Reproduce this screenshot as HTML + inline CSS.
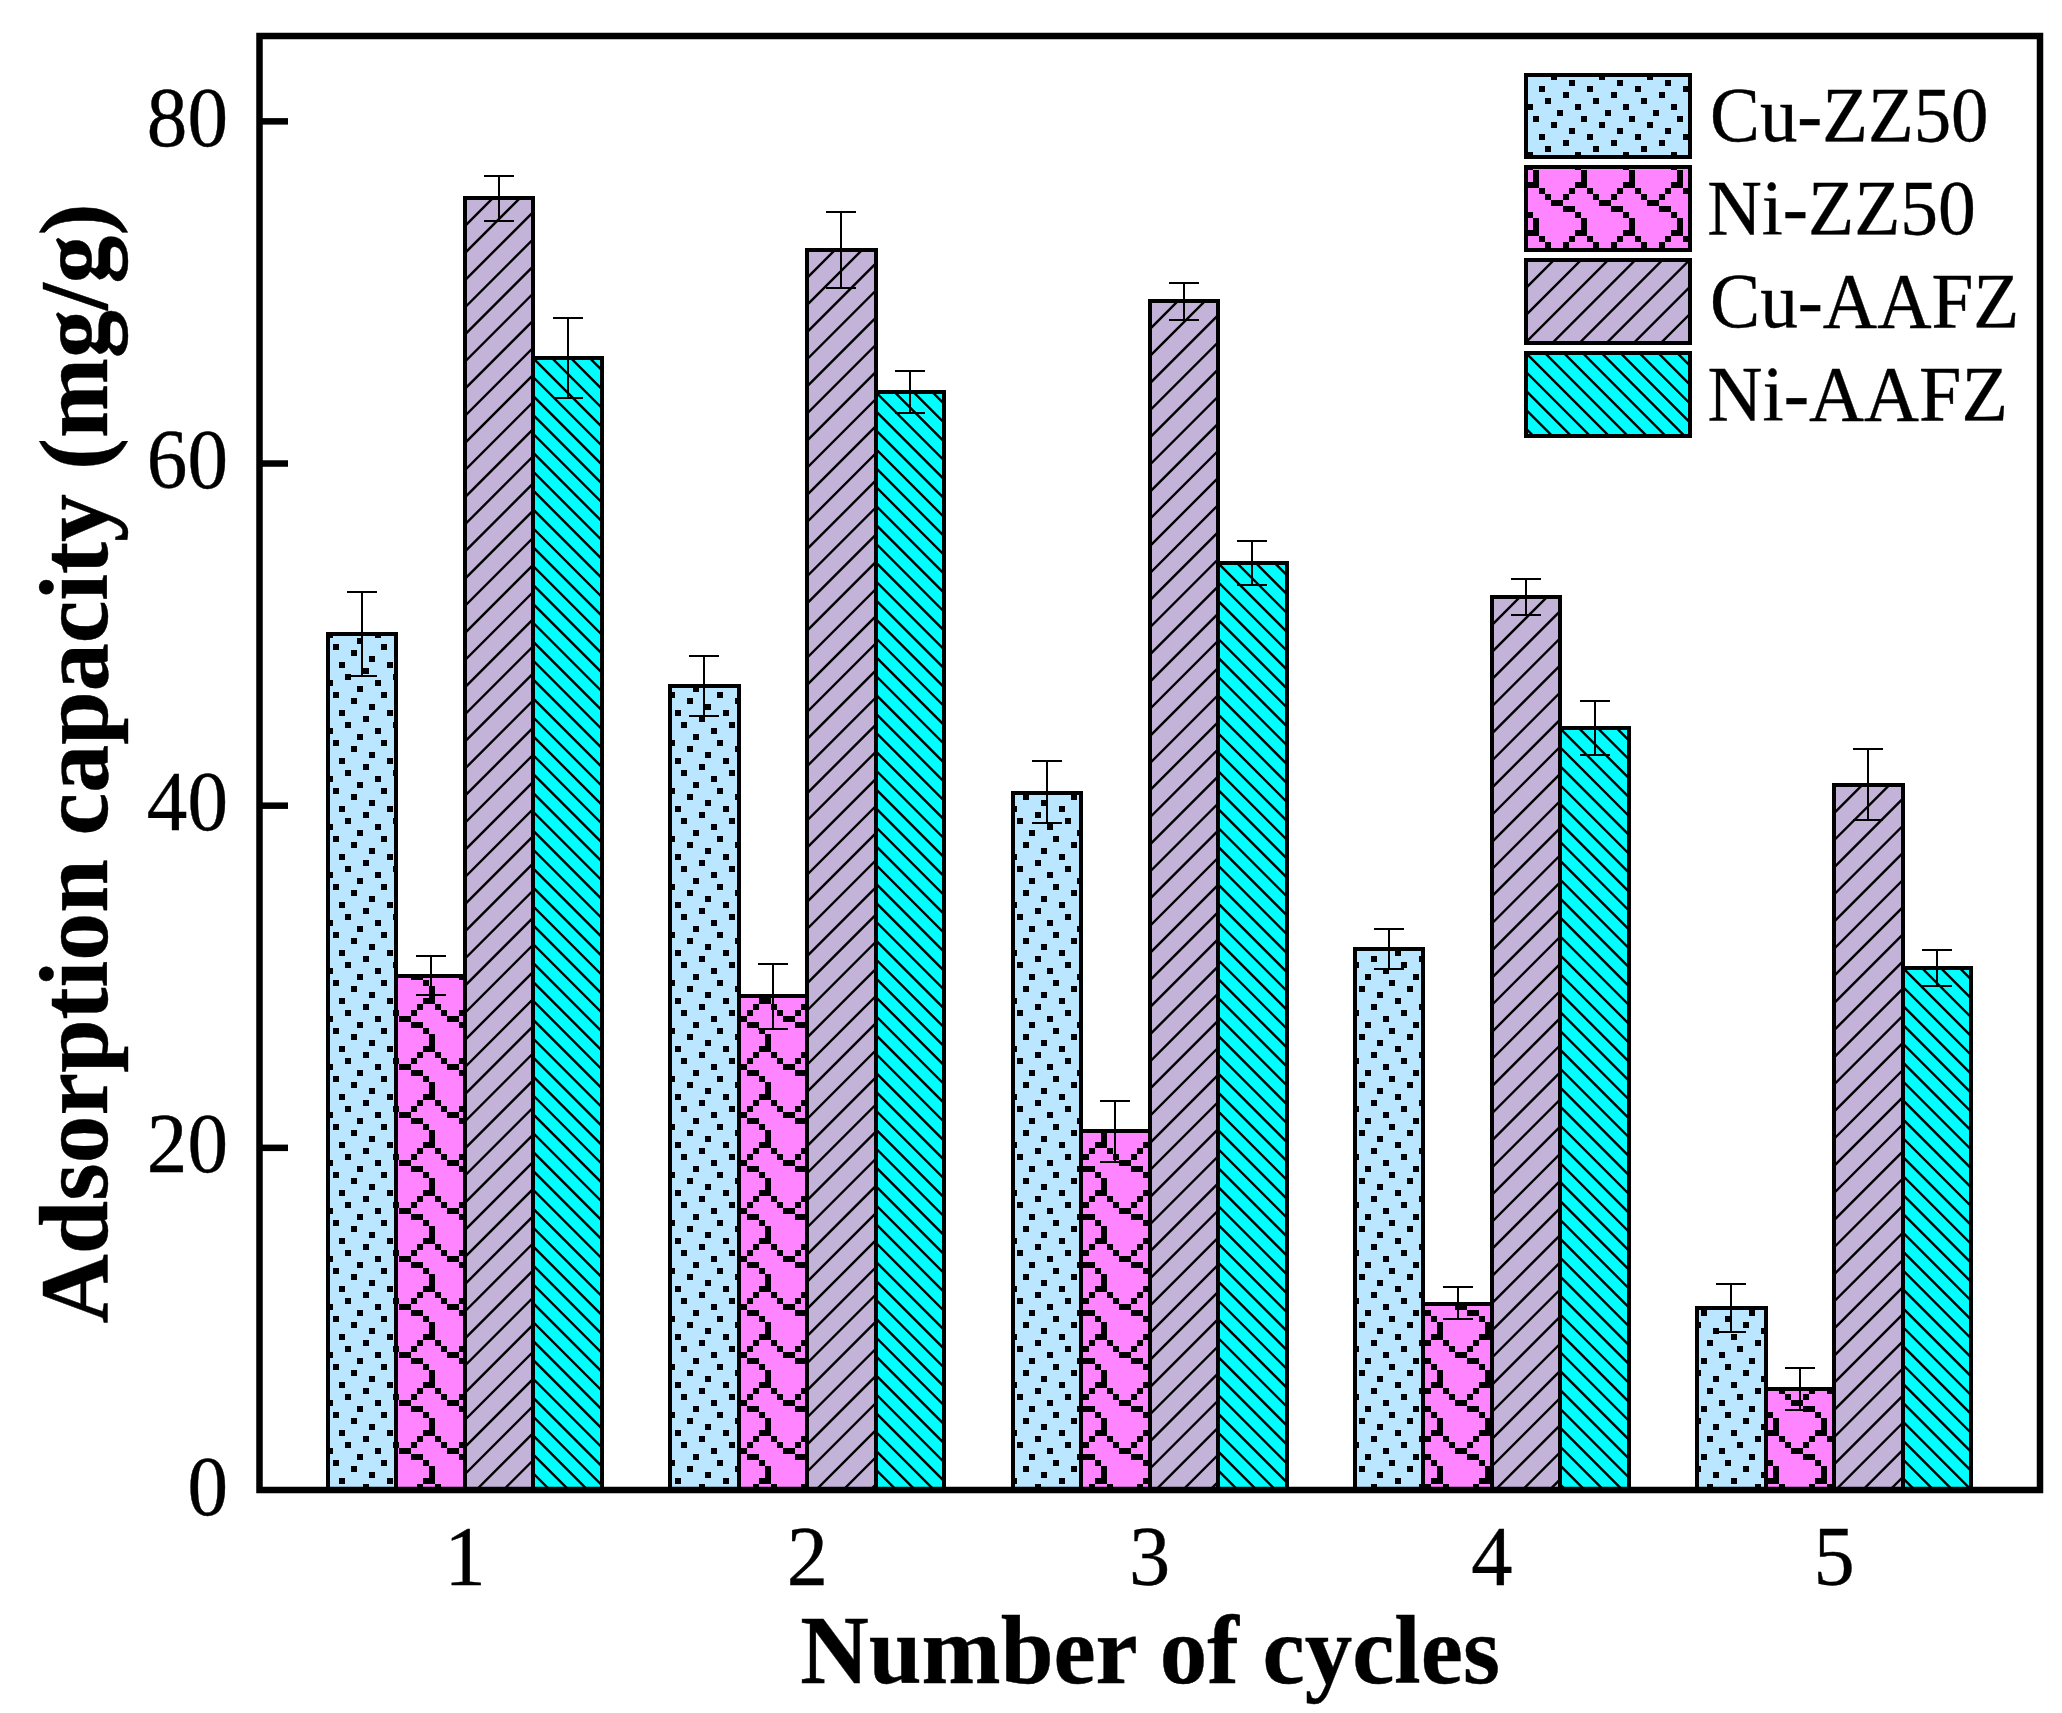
<!DOCTYPE html>
<html lang="en"><head><meta charset="utf-8"><title>Adsorption capacity vs number of cycles</title>
<style>html,body{margin:0;padding:0;background:#fff}body{width:2062px;height:1713px;overflow:hidden}svg{display:block}text{font-family:"Liberation Serif",serif;fill:#000;stroke:#000;stroke-width:0.4px}.b{font-weight:bold}</style></head><body>
<svg width="2062" height="1713" viewBox="0 0 2062 1713">
<defs>
<pattern id="pd" patternUnits="userSpaceOnUse" x="399" y="1382" width="48" height="48">
<rect width="48" height="48" fill="#BBE6FF"/>
<rect x="36" y="0" width="6" height="6" fill="#000"/>
<rect x="12" y="6" width="6" height="6" fill="#000"/>
<rect x="42" y="12" width="6" height="6" fill="#000"/>
<rect x="24" y="18" width="6" height="6" fill="#000"/>
<rect x="6" y="24" width="6" height="6" fill="#000"/>
<rect x="30" y="30" width="6" height="6" fill="#000"/>
<rect x="0" y="36" width="6" height="6" fill="#000"/>
<rect x="18" y="42" width="6" height="6" fill="#000"/>
</pattern>
<pattern id="ps" patternUnits="userSpaceOnUse" x="399" y="1382" width="48" height="48">
<rect width="48" height="48" fill="#FF84FF"/>
<rect x="24" y="0" width="6" height="6" fill="#000"/>
<rect x="30" y="0" width="6" height="6" fill="#000"/>
<rect x="18" y="6" width="6" height="6" fill="#000"/>
<rect x="36" y="6" width="6" height="6" fill="#000"/>
<rect x="12" y="12" width="6" height="6" fill="#000"/>
<rect x="42" y="12" width="6" height="6" fill="#000"/>
<rect x="0" y="18" width="6" height="6" fill="#000"/>
<rect x="6" y="18" width="6" height="6" fill="#000"/>
<rect x="12" y="24" width="6" height="6" fill="#000"/>
<rect x="18" y="24" width="6" height="6" fill="#000"/>
<rect x="24" y="30" width="6" height="6" fill="#000"/>
<rect x="30" y="36" width="6" height="6" fill="#000"/>
<rect x="30" y="42" width="6" height="6" fill="#000"/>
</pattern>
</defs>
<rect width="2062" height="1713" fill="#fff"/>
<g id="bars">
<rect x="328.00" y="634.00" width="68.00" height="856.00" fill="url(#pd)" shape-rendering="crispEdges"/><rect x="328.00" y="634.00" width="68.00" height="856.00" fill="none" stroke="#000" stroke-width="4.00" shape-rendering="crispEdges"/>
<rect x="396.00" y="976.00" width="69.00" height="514.00" fill="url(#ps)" shape-rendering="crispEdges"/><rect x="396.00" y="976.00" width="69.00" height="514.00" fill="none" stroke="#000" stroke-width="4.00" shape-rendering="crispEdges"/>
<rect x="465.00" y="198.00" width="68.00" height="1292.00" fill="#C4B3D9"/><clipPath id="c1"><rect x="465.00" y="198.00" width="68.00" height="1292.00"/></clipPath><g clip-path="url(#c1)" stroke="#000" stroke-width="2.40" fill="none"><path d="M462.00 201.80L536.00 127.80M462.00 228.93L536.00 154.93M462.00 256.07L536.00 182.07M462.00 283.20L536.00 209.20M462.00 310.34L536.00 236.34M462.00 337.47L536.00 263.47M462.00 364.61L536.00 290.61M462.00 391.75L536.00 317.75M462.00 418.88L536.00 344.88M462.00 446.01L536.00 372.01M462.00 473.15L536.00 399.15M462.00 500.28L536.00 426.28M462.00 527.42L536.00 453.42M462.00 554.55L536.00 480.55M462.00 581.69L536.00 507.69M462.00 608.83L536.00 534.83M462.00 635.96L536.00 561.96M462.00 663.10L536.00 589.10M462.00 690.23L536.00 616.23M462.00 717.37L536.00 643.37M462.00 744.50L536.00 670.50M462.00 771.63L536.00 697.63M462.00 798.77L536.00 724.77M462.00 825.90L536.00 751.90M462.00 853.04L536.00 779.04M462.00 880.17L536.00 806.17M462.00 907.31L536.00 833.31M462.00 934.45L536.00 860.45M462.00 961.58L536.00 887.58M462.00 988.72L536.00 914.72M462.00 1015.85L536.00 941.85M462.00 1042.99L536.00 968.99M462.00 1070.12L536.00 996.12M462.00 1097.26L536.00 1023.26M462.00 1124.39L536.00 1050.39M462.00 1151.53L536.00 1077.53M462.00 1178.66L536.00 1104.66M462.00 1205.80L536.00 1131.80M462.00 1232.93L536.00 1158.93M462.00 1260.07L536.00 1186.07M462.00 1287.20L536.00 1213.20M462.00 1314.34L536.00 1240.34M462.00 1341.47L536.00 1267.47M462.00 1368.61L536.00 1294.61M462.00 1395.74L536.00 1321.74M462.00 1422.88L536.00 1348.88M462.00 1450.01L536.00 1376.01M462.00 1477.14L536.00 1403.14M462.00 1504.28L536.00 1430.28M462.00 1531.41L536.00 1457.41M462.00 1558.55L536.00 1484.55"/></g><rect x="465.00" y="198.00" width="68.00" height="1292.00" fill="none" stroke="#000" stroke-width="4.00" shape-rendering="crispEdges"/>
<rect x="533.00" y="358.00" width="69.00" height="1132.00" fill="#00FFFF"/><clipPath id="c2"><rect x="533.00" y="358.00" width="69.00" height="1132.00"/></clipPath><g clip-path="url(#c2)" stroke="#000" stroke-width="2.40" fill="none"><path d="M530.00 279.40L605.00 354.40M530.00 298.30L605.00 373.30M530.00 317.20L605.00 392.20M530.00 336.10L605.00 411.10M530.00 355.00L605.00 430.00M530.00 373.90L605.00 448.90M530.00 392.80L605.00 467.80M530.00 411.70L605.00 486.70M530.00 430.60L605.00 505.60M530.00 449.50L605.00 524.50M530.00 468.40L605.00 543.40M530.00 487.30L605.00 562.30M530.00 506.20L605.00 581.20M530.00 525.10L605.00 600.10M530.00 544.00L605.00 619.00M530.00 562.90L605.00 637.90M530.00 581.80L605.00 656.80M530.00 600.70L605.00 675.70M530.00 619.60L605.00 694.60M530.00 638.50L605.00 713.50M530.00 657.40L605.00 732.40M530.00 676.30L605.00 751.30M530.00 695.20L605.00 770.20M530.00 714.10L605.00 789.10M530.00 733.00L605.00 808.00M530.00 751.90L605.00 826.90M530.00 770.80L605.00 845.80M530.00 789.70L605.00 864.70M530.00 808.60L605.00 883.60M530.00 827.50L605.00 902.50M530.00 846.40L605.00 921.40M530.00 865.30L605.00 940.30M530.00 884.20L605.00 959.20M530.00 903.10L605.00 978.10M530.00 922.00L605.00 997.00M530.00 940.90L605.00 1015.90M530.00 959.80L605.00 1034.80M530.00 978.70L605.00 1053.70M530.00 997.60L605.00 1072.60M530.00 1016.50L605.00 1091.50M530.00 1035.40L605.00 1110.40M530.00 1054.30L605.00 1129.30M530.00 1073.20L605.00 1148.20M530.00 1092.10L605.00 1167.10M530.00 1111.00L605.00 1186.00M530.00 1129.90L605.00 1204.90M530.00 1148.80L605.00 1223.80M530.00 1167.70L605.00 1242.70M530.00 1186.60L605.00 1261.60M530.00 1205.50L605.00 1280.50M530.00 1224.40L605.00 1299.40M530.00 1243.30L605.00 1318.30M530.00 1262.20L605.00 1337.20M530.00 1281.10L605.00 1356.10M530.00 1300.00L605.00 1375.00M530.00 1318.90L605.00 1393.90M530.00 1337.80L605.00 1412.80M530.00 1356.70L605.00 1431.70M530.00 1375.60L605.00 1450.60M530.00 1394.50L605.00 1469.50M530.00 1413.40L605.00 1488.40M530.00 1432.30L605.00 1507.30M530.00 1451.20L605.00 1526.20M530.00 1470.10L605.00 1545.10M530.00 1489.00L605.00 1564.00"/></g><rect x="533.00" y="358.00" width="69.00" height="1132.00" fill="none" stroke="#000" stroke-width="4.00" shape-rendering="crispEdges"/>
<rect x="670.00" y="686.00" width="69.00" height="804.00" fill="url(#pd)" shape-rendering="crispEdges"/><rect x="670.00" y="686.00" width="69.00" height="804.00" fill="none" stroke="#000" stroke-width="4.00" shape-rendering="crispEdges"/>
<rect x="739.00" y="996.20" width="68.00" height="493.80" fill="url(#ps)" shape-rendering="crispEdges"/><rect x="739.00" y="996.20" width="68.00" height="493.80" fill="none" stroke="#000" stroke-width="4.00" shape-rendering="crispEdges"/>
<rect x="807.00" y="250.00" width="69.00" height="1240.00" fill="#C4B3D9"/><clipPath id="c3"><rect x="807.00" y="250.00" width="69.00" height="1240.00"/></clipPath><g clip-path="url(#c3)" stroke="#000" stroke-width="2.40" fill="none"><path d="M804.00 253.80L879.00 178.80M804.00 280.93L879.00 205.93M804.00 308.07L879.00 233.07M804.00 335.20L879.00 260.20M804.00 362.34L879.00 287.34M804.00 389.47L879.00 314.47M804.00 416.61L879.00 341.61M804.00 443.74L879.00 368.74M804.00 470.88L879.00 395.88M804.00 498.01L879.00 423.01M804.00 525.15L879.00 450.15M804.00 552.28L879.00 477.28M804.00 579.42L879.00 504.42M804.00 606.55L879.00 531.55M804.00 633.69L879.00 558.69M804.00 660.83L879.00 585.83M804.00 687.96L879.00 612.96M804.00 715.10L879.00 640.10M804.00 742.23L879.00 667.23M804.00 769.37L879.00 694.37M804.00 796.50L879.00 721.50M804.00 823.63L879.00 748.63M804.00 850.77L879.00 775.77M804.00 877.90L879.00 802.90M804.00 905.04L879.00 830.04M804.00 932.17L879.00 857.17M804.00 959.31L879.00 884.31M804.00 986.45L879.00 911.45M804.00 1013.58L879.00 938.58M804.00 1040.72L879.00 965.72M804.00 1067.85L879.00 992.85M804.00 1094.99L879.00 1019.99M804.00 1122.12L879.00 1047.12M804.00 1149.26L879.00 1074.26M804.00 1176.39L879.00 1101.39M804.00 1203.53L879.00 1128.53M804.00 1230.66L879.00 1155.66M804.00 1257.80L879.00 1182.80M804.00 1284.93L879.00 1209.93M804.00 1312.07L879.00 1237.07M804.00 1339.20L879.00 1264.20M804.00 1366.34L879.00 1291.34M804.00 1393.47L879.00 1318.47M804.00 1420.61L879.00 1345.61M804.00 1447.74L879.00 1372.74M804.00 1474.88L879.00 1399.88M804.00 1502.01L879.00 1427.01M804.00 1529.14L879.00 1454.14M804.00 1556.28L879.00 1481.28"/></g><rect x="807.00" y="250.00" width="69.00" height="1240.00" fill="none" stroke="#000" stroke-width="4.00" shape-rendering="crispEdges"/>
<rect x="876.00" y="392.40" width="68.00" height="1097.60" fill="#00FFFF"/><clipPath id="c4"><rect x="876.00" y="392.40" width="68.00" height="1097.60"/></clipPath><g clip-path="url(#c4)" stroke="#000" stroke-width="2.40" fill="none"><path d="M873.00 313.80L947.00 387.80M873.00 332.70L947.00 406.70M873.00 351.60L947.00 425.60M873.00 370.50L947.00 444.50M873.00 389.40L947.00 463.40M873.00 408.30L947.00 482.30M873.00 427.20L947.00 501.20M873.00 446.10L947.00 520.10M873.00 465.00L947.00 539.00M873.00 483.90L947.00 557.90M873.00 502.80L947.00 576.80M873.00 521.70L947.00 595.70M873.00 540.60L947.00 614.60M873.00 559.50L947.00 633.50M873.00 578.40L947.00 652.40M873.00 597.30L947.00 671.30M873.00 616.20L947.00 690.20M873.00 635.10L947.00 709.10M873.00 654.00L947.00 728.00M873.00 672.90L947.00 746.90M873.00 691.80L947.00 765.80M873.00 710.70L947.00 784.70M873.00 729.60L947.00 803.60M873.00 748.50L947.00 822.50M873.00 767.40L947.00 841.40M873.00 786.30L947.00 860.30M873.00 805.20L947.00 879.20M873.00 824.10L947.00 898.10M873.00 843.00L947.00 917.00M873.00 861.90L947.00 935.90M873.00 880.80L947.00 954.80M873.00 899.70L947.00 973.70M873.00 918.60L947.00 992.60M873.00 937.50L947.00 1011.50M873.00 956.40L947.00 1030.40M873.00 975.30L947.00 1049.30M873.00 994.20L947.00 1068.20M873.00 1013.10L947.00 1087.10M873.00 1032.00L947.00 1106.00M873.00 1050.90L947.00 1124.90M873.00 1069.80L947.00 1143.80M873.00 1088.70L947.00 1162.70M873.00 1107.60L947.00 1181.60M873.00 1126.50L947.00 1200.50M873.00 1145.40L947.00 1219.40M873.00 1164.30L947.00 1238.30M873.00 1183.20L947.00 1257.20M873.00 1202.10L947.00 1276.10M873.00 1221.00L947.00 1295.00M873.00 1239.90L947.00 1313.90M873.00 1258.80L947.00 1332.80M873.00 1277.70L947.00 1351.70M873.00 1296.60L947.00 1370.60M873.00 1315.50L947.00 1389.50M873.00 1334.40L947.00 1408.40M873.00 1353.30L947.00 1427.30M873.00 1372.20L947.00 1446.20M873.00 1391.10L947.00 1465.10M873.00 1410.00L947.00 1484.00M873.00 1428.90L947.00 1502.90M873.00 1447.80L947.00 1521.80M873.00 1466.70L947.00 1540.70M873.00 1485.60L947.00 1559.60"/></g><rect x="876.00" y="392.40" width="68.00" height="1097.60" fill="none" stroke="#000" stroke-width="4.00" shape-rendering="crispEdges"/>
<rect x="1013.00" y="792.60" width="68.00" height="697.40" fill="url(#pd)" shape-rendering="crispEdges"/><rect x="1013.00" y="792.60" width="68.00" height="697.40" fill="none" stroke="#000" stroke-width="4.00" shape-rendering="crispEdges"/>
<rect x="1081.00" y="1131.00" width="69.00" height="359.00" fill="url(#ps)" shape-rendering="crispEdges"/><rect x="1081.00" y="1131.00" width="69.00" height="359.00" fill="none" stroke="#000" stroke-width="4.00" shape-rendering="crispEdges"/>
<rect x="1150.00" y="301.00" width="68.00" height="1189.00" fill="#C4B3D9"/><clipPath id="c5"><rect x="1150.00" y="301.00" width="68.00" height="1189.00"/></clipPath><g clip-path="url(#c5)" stroke="#000" stroke-width="2.40" fill="none"><path d="M1147.00 304.80L1221.00 230.80M1147.00 331.93L1221.00 257.93M1147.00 359.07L1221.00 285.07M1147.00 386.20L1221.00 312.20M1147.00 413.34L1221.00 339.34M1147.00 440.47L1221.00 366.47M1147.00 467.61L1221.00 393.61M1147.00 494.74L1221.00 420.74M1147.00 521.88L1221.00 447.88M1147.00 549.01L1221.00 475.01M1147.00 576.15L1221.00 502.15M1147.00 603.28L1221.00 529.28M1147.00 630.42L1221.00 556.42M1147.00 657.55L1221.00 583.55M1147.00 684.69L1221.00 610.69M1147.00 711.83L1221.00 637.83M1147.00 738.96L1221.00 664.96M1147.00 766.10L1221.00 692.10M1147.00 793.23L1221.00 719.23M1147.00 820.37L1221.00 746.37M1147.00 847.50L1221.00 773.50M1147.00 874.63L1221.00 800.63M1147.00 901.77L1221.00 827.77M1147.00 928.90L1221.00 854.90M1147.00 956.04L1221.00 882.04M1147.00 983.18L1221.00 909.18M1147.00 1010.31L1221.00 936.31M1147.00 1037.45L1221.00 963.45M1147.00 1064.58L1221.00 990.58M1147.00 1091.72L1221.00 1017.72M1147.00 1118.85L1221.00 1044.85M1147.00 1145.99L1221.00 1071.99M1147.00 1173.12L1221.00 1099.12M1147.00 1200.26L1221.00 1126.26M1147.00 1227.39L1221.00 1153.39M1147.00 1254.53L1221.00 1180.53M1147.00 1281.66L1221.00 1207.66M1147.00 1308.80L1221.00 1234.80M1147.00 1335.93L1221.00 1261.93M1147.00 1363.07L1221.00 1289.07M1147.00 1390.20L1221.00 1316.20M1147.00 1417.34L1221.00 1343.34M1147.00 1444.47L1221.00 1370.47M1147.00 1471.61L1221.00 1397.61M1147.00 1498.74L1221.00 1424.74M1147.00 1525.88L1221.00 1451.88M1147.00 1553.01L1221.00 1479.01"/></g><rect x="1150.00" y="301.00" width="68.00" height="1189.00" fill="none" stroke="#000" stroke-width="4.00" shape-rendering="crispEdges"/>
<rect x="1218.00" y="563.00" width="69.00" height="927.00" fill="#00FFFF"/><clipPath id="c6"><rect x="1218.00" y="563.00" width="69.00" height="927.00"/></clipPath><g clip-path="url(#c6)" stroke="#000" stroke-width="2.40" fill="none"><path d="M1215.00 484.40L1290.00 559.40M1215.00 503.30L1290.00 578.30M1215.00 522.20L1290.00 597.20M1215.00 541.10L1290.00 616.10M1215.00 560.00L1290.00 635.00M1215.00 578.90L1290.00 653.90M1215.00 597.80L1290.00 672.80M1215.00 616.70L1290.00 691.70M1215.00 635.60L1290.00 710.60M1215.00 654.50L1290.00 729.50M1215.00 673.40L1290.00 748.40M1215.00 692.30L1290.00 767.30M1215.00 711.20L1290.00 786.20M1215.00 730.10L1290.00 805.10M1215.00 749.00L1290.00 824.00M1215.00 767.90L1290.00 842.90M1215.00 786.80L1290.00 861.80M1215.00 805.70L1290.00 880.70M1215.00 824.60L1290.00 899.60M1215.00 843.50L1290.00 918.50M1215.00 862.40L1290.00 937.40M1215.00 881.30L1290.00 956.30M1215.00 900.20L1290.00 975.20M1215.00 919.10L1290.00 994.10M1215.00 938.00L1290.00 1013.00M1215.00 956.90L1290.00 1031.90M1215.00 975.80L1290.00 1050.80M1215.00 994.70L1290.00 1069.70M1215.00 1013.60L1290.00 1088.60M1215.00 1032.50L1290.00 1107.50M1215.00 1051.40L1290.00 1126.40M1215.00 1070.30L1290.00 1145.30M1215.00 1089.20L1290.00 1164.20M1215.00 1108.10L1290.00 1183.10M1215.00 1127.00L1290.00 1202.00M1215.00 1145.90L1290.00 1220.90M1215.00 1164.80L1290.00 1239.80M1215.00 1183.70L1290.00 1258.70M1215.00 1202.60L1290.00 1277.60M1215.00 1221.50L1290.00 1296.50M1215.00 1240.40L1290.00 1315.40M1215.00 1259.30L1290.00 1334.30M1215.00 1278.20L1290.00 1353.20M1215.00 1297.10L1290.00 1372.10M1215.00 1316.00L1290.00 1391.00M1215.00 1334.90L1290.00 1409.90M1215.00 1353.80L1290.00 1428.80M1215.00 1372.70L1290.00 1447.70M1215.00 1391.60L1290.00 1466.60M1215.00 1410.50L1290.00 1485.50M1215.00 1429.40L1290.00 1504.40M1215.00 1448.30L1290.00 1523.30M1215.00 1467.20L1290.00 1542.20M1215.00 1486.10L1290.00 1561.10"/></g><rect x="1218.00" y="563.00" width="69.00" height="927.00" fill="none" stroke="#000" stroke-width="4.00" shape-rendering="crispEdges"/>
<rect x="1355.00" y="948.50" width="68.00" height="541.50" fill="url(#pd)" shape-rendering="crispEdges"/><rect x="1355.00" y="948.50" width="68.00" height="541.50" fill="none" stroke="#000" stroke-width="4.00" shape-rendering="crispEdges"/>
<rect x="1423.00" y="1303.50" width="69.00" height="186.50" fill="url(#ps)" shape-rendering="crispEdges"/><rect x="1423.00" y="1303.50" width="69.00" height="186.50" fill="none" stroke="#000" stroke-width="4.00" shape-rendering="crispEdges"/>
<rect x="1492.00" y="597.00" width="68.00" height="893.00" fill="#C4B3D9"/><clipPath id="c7"><rect x="1492.00" y="597.00" width="68.00" height="893.00"/></clipPath><g clip-path="url(#c7)" stroke="#000" stroke-width="2.40" fill="none"><path d="M1489.00 600.80L1563.00 526.80M1489.00 627.94L1563.00 553.94M1489.00 655.07L1563.00 581.07M1489.00 682.21L1563.00 608.21M1489.00 709.34L1563.00 635.34M1489.00 736.48L1563.00 662.48M1489.00 763.61L1563.00 689.61M1489.00 790.75L1563.00 716.75M1489.00 817.88L1563.00 743.88M1489.00 845.02L1563.00 771.02M1489.00 872.15L1563.00 798.15M1489.00 899.29L1563.00 825.29M1489.00 926.42L1563.00 852.42M1489.00 953.56L1563.00 879.56M1489.00 980.69L1563.00 906.69M1489.00 1007.83L1563.00 933.83M1489.00 1034.96L1563.00 960.96M1489.00 1062.10L1563.00 988.10M1489.00 1089.23L1563.00 1015.23M1489.00 1116.37L1563.00 1042.37M1489.00 1143.50L1563.00 1069.50M1489.00 1170.64L1563.00 1096.64M1489.00 1197.77L1563.00 1123.77M1489.00 1224.91L1563.00 1150.91M1489.00 1252.04L1563.00 1178.04M1489.00 1279.18L1563.00 1205.18M1489.00 1306.31L1563.00 1232.31M1489.00 1333.45L1563.00 1259.45M1489.00 1360.58L1563.00 1286.58M1489.00 1387.72L1563.00 1313.72M1489.00 1414.85L1563.00 1340.85M1489.00 1441.99L1563.00 1367.99M1489.00 1469.12L1563.00 1395.12M1489.00 1496.26L1563.00 1422.26M1489.00 1523.39L1563.00 1449.39M1489.00 1550.53L1563.00 1476.53"/></g><rect x="1492.00" y="597.00" width="68.00" height="893.00" fill="none" stroke="#000" stroke-width="4.00" shape-rendering="crispEdges"/>
<rect x="1560.00" y="728.20" width="69.00" height="761.80" fill="#00FFFF"/><clipPath id="c8"><rect x="1560.00" y="728.20" width="69.00" height="761.80"/></clipPath><g clip-path="url(#c8)" stroke="#000" stroke-width="2.40" fill="none"><path d="M1557.00 649.60L1632.00 724.60M1557.00 668.50L1632.00 743.50M1557.00 687.40L1632.00 762.40M1557.00 706.30L1632.00 781.30M1557.00 725.20L1632.00 800.20M1557.00 744.10L1632.00 819.10M1557.00 763.00L1632.00 838.00M1557.00 781.90L1632.00 856.90M1557.00 800.80L1632.00 875.80M1557.00 819.70L1632.00 894.70M1557.00 838.60L1632.00 913.60M1557.00 857.50L1632.00 932.50M1557.00 876.40L1632.00 951.40M1557.00 895.30L1632.00 970.30M1557.00 914.20L1632.00 989.20M1557.00 933.10L1632.00 1008.10M1557.00 952.00L1632.00 1027.00M1557.00 970.90L1632.00 1045.90M1557.00 989.80L1632.00 1064.80M1557.00 1008.70L1632.00 1083.70M1557.00 1027.60L1632.00 1102.60M1557.00 1046.50L1632.00 1121.50M1557.00 1065.40L1632.00 1140.40M1557.00 1084.30L1632.00 1159.30M1557.00 1103.20L1632.00 1178.20M1557.00 1122.10L1632.00 1197.10M1557.00 1141.00L1632.00 1216.00M1557.00 1159.90L1632.00 1234.90M1557.00 1178.80L1632.00 1253.80M1557.00 1197.70L1632.00 1272.70M1557.00 1216.60L1632.00 1291.60M1557.00 1235.50L1632.00 1310.50M1557.00 1254.40L1632.00 1329.40M1557.00 1273.30L1632.00 1348.30M1557.00 1292.20L1632.00 1367.20M1557.00 1311.10L1632.00 1386.10M1557.00 1330.00L1632.00 1405.00M1557.00 1348.90L1632.00 1423.90M1557.00 1367.80L1632.00 1442.80M1557.00 1386.70L1632.00 1461.70M1557.00 1405.60L1632.00 1480.60M1557.00 1424.50L1632.00 1499.50M1557.00 1443.40L1632.00 1518.40M1557.00 1462.30L1632.00 1537.30M1557.00 1481.20L1632.00 1556.20"/></g><rect x="1560.00" y="728.20" width="69.00" height="761.80" fill="none" stroke="#000" stroke-width="4.00" shape-rendering="crispEdges"/>
<rect x="1697.00" y="1308.00" width="69.00" height="182.00" fill="url(#pd)" shape-rendering="crispEdges"/><rect x="1697.00" y="1308.00" width="69.00" height="182.00" fill="none" stroke="#000" stroke-width="4.00" shape-rendering="crispEdges"/>
<rect x="1766.00" y="1389.00" width="68.00" height="101.00" fill="url(#ps)" shape-rendering="crispEdges"/><rect x="1766.00" y="1389.00" width="68.00" height="101.00" fill="none" stroke="#000" stroke-width="4.00" shape-rendering="crispEdges"/>
<rect x="1834.00" y="785.30" width="69.00" height="704.70" fill="#C4B3D9"/><clipPath id="c9"><rect x="1834.00" y="785.30" width="69.00" height="704.70"/></clipPath><g clip-path="url(#c9)" stroke="#000" stroke-width="2.40" fill="none"><path d="M1831.00 789.10L1906.00 714.10M1831.00 816.24L1906.00 741.24M1831.00 843.37L1906.00 768.37M1831.00 870.51L1906.00 795.51M1831.00 897.64L1906.00 822.64M1831.00 924.78L1906.00 849.78M1831.00 951.91L1906.00 876.91M1831.00 979.05L1906.00 904.05M1831.00 1006.18L1906.00 931.18M1831.00 1033.32L1906.00 958.32M1831.00 1060.45L1906.00 985.45M1831.00 1087.59L1906.00 1012.59M1831.00 1114.72L1906.00 1039.72M1831.00 1141.86L1906.00 1066.86M1831.00 1168.99L1906.00 1093.99M1831.00 1196.13L1906.00 1121.13M1831.00 1223.26L1906.00 1148.26M1831.00 1250.40L1906.00 1175.40M1831.00 1277.53L1906.00 1202.53M1831.00 1304.67L1906.00 1229.67M1831.00 1331.80L1906.00 1256.80M1831.00 1358.94L1906.00 1283.94M1831.00 1386.07L1906.00 1311.07M1831.00 1413.21L1906.00 1338.21M1831.00 1440.34L1906.00 1365.34M1831.00 1467.48L1906.00 1392.48M1831.00 1494.61L1906.00 1419.61M1831.00 1521.75L1906.00 1446.75M1831.00 1548.88L1906.00 1473.88"/></g><rect x="1834.00" y="785.30" width="69.00" height="704.70" fill="none" stroke="#000" stroke-width="4.00" shape-rendering="crispEdges"/>
<rect x="1903.00" y="968.00" width="68.00" height="522.00" fill="#00FFFF"/><clipPath id="c10"><rect x="1903.00" y="968.00" width="68.00" height="522.00"/></clipPath><g clip-path="url(#c10)" stroke="#000" stroke-width="2.40" fill="none"><path d="M1900.00 889.40L1974.00 963.40M1900.00 908.30L1974.00 982.30M1900.00 927.20L1974.00 1001.20M1900.00 946.10L1974.00 1020.10M1900.00 965.00L1974.00 1039.00M1900.00 983.90L1974.00 1057.90M1900.00 1002.80L1974.00 1076.80M1900.00 1021.70L1974.00 1095.70M1900.00 1040.60L1974.00 1114.60M1900.00 1059.50L1974.00 1133.50M1900.00 1078.40L1974.00 1152.40M1900.00 1097.30L1974.00 1171.30M1900.00 1116.20L1974.00 1190.20M1900.00 1135.10L1974.00 1209.10M1900.00 1154.00L1974.00 1228.00M1900.00 1172.90L1974.00 1246.90M1900.00 1191.80L1974.00 1265.80M1900.00 1210.70L1974.00 1284.70M1900.00 1229.60L1974.00 1303.60M1900.00 1248.50L1974.00 1322.50M1900.00 1267.40L1974.00 1341.40M1900.00 1286.30L1974.00 1360.30M1900.00 1305.20L1974.00 1379.20M1900.00 1324.10L1974.00 1398.10M1900.00 1343.00L1974.00 1417.00M1900.00 1361.90L1974.00 1435.90M1900.00 1380.80L1974.00 1454.80M1900.00 1399.70L1974.00 1473.70M1900.00 1418.60L1974.00 1492.60M1900.00 1437.50L1974.00 1511.50M1900.00 1456.40L1974.00 1530.40M1900.00 1475.30L1974.00 1549.30"/></g><rect x="1903.00" y="968.00" width="68.00" height="522.00" fill="none" stroke="#000" stroke-width="4.00" shape-rendering="crispEdges"/>
</g>
<g id="err" stroke="#000" stroke-width="2" fill="none" shape-rendering="crispEdges">
<path d="M362.0 592.0V676.0M347.3 592.0H376.7M347.3 676.0H376.7"/>
<path d="M431.0 956.0V995.0M416.3 956.0H445.7M416.3 995.0H445.7"/>
<path d="M499.0 176.0V221.0M484.3 176.0H513.7M484.3 221.0H513.7"/>
<path d="M568.0 318.0V398.0M553.3 318.0H582.7M553.3 398.0H582.7"/>
<path d="M704.0 655.5V716.0M689.3 655.5H718.7M689.3 716.0H718.7"/>
<path d="M773.0 964.0V1029.0M758.3 964.0H787.7M758.3 1029.0H787.7"/>
<path d="M841.0 212.0V288.0M826.3 212.0H855.7M826.3 288.0H855.7"/>
<path d="M910.0 371.0V413.0M895.3 371.0H924.7M895.3 413.0H924.7"/>
<path d="M1047.0 760.5V823.0M1032.3 760.5H1061.7M1032.3 823.0H1061.7"/>
<path d="M1115.0 1100.6V1161.7M1100.3 1100.6H1129.7M1100.3 1161.7H1129.7"/>
<path d="M1184.0 282.5V320.0M1169.3 282.5H1198.7M1169.3 320.0H1198.7"/>
<path d="M1252.0 540.6V585.0M1237.3 540.6H1266.7M1237.3 585.0H1266.7"/>
<path d="M1389.0 929.0V969.0M1374.3 929.0H1403.7M1374.3 969.0H1403.7"/>
<path d="M1458.0 1287.3V1318.6M1443.3 1287.3H1472.7M1443.3 1318.6H1472.7"/>
<path d="M1526.0 579.0V615.0M1511.3 579.0H1540.7M1511.3 615.0H1540.7"/>
<path d="M1595.0 701.0V755.0M1580.3 701.0H1609.7M1580.3 755.0H1609.7"/>
<path d="M1731.0 1284.0V1332.0M1716.3 1284.0H1745.7M1716.3 1332.0H1745.7"/>
<path d="M1800.0 1368.0V1410.0M1785.3 1368.0H1814.7M1785.3 1410.0H1814.7"/>
<path d="M1868.0 749.0V820.0M1853.3 749.0H1882.7M1853.3 820.0H1882.7"/>
<path d="M1937.0 949.7V985.8M1922.3 949.7H1951.7M1922.3 985.8H1951.7"/>
</g>
<rect x="259.50" y="36.00" width="1780.50" height="1454.00" fill="none" stroke="#000" stroke-width="6.5"/>
<g id="yticks">
<rect x="259.5" y="1144.59" width="28.5" height="6.5" fill="#000"/>
<rect x="259.5" y="802.43" width="28.5" height="6.5" fill="#000"/>
<rect x="259.5" y="460.27" width="28.5" height="6.5" fill="#000"/>
<rect x="259.5" y="118.11" width="28.5" height="6.5" fill="#000"/>
<text transform="translate(228.0 1514.6) scale(0.955 1)" font-size="85" text-anchor="end">0</text>
<text transform="translate(228.0 1172.4) scale(0.955 1)" font-size="85" text-anchor="end">20</text>
<text transform="translate(228.0 830.3) scale(0.955 1)" font-size="85" text-anchor="end">40</text>
<text transform="translate(228.0 488.1) scale(0.955 1)" font-size="85" text-anchor="end">60</text>
<text transform="translate(228.0 146.0) scale(0.955 1)" font-size="85" text-anchor="end">80</text>
</g>
<g id="xlabels">
<text transform="translate(465.0 1584.8) scale(0.97 1)" font-size="85" text-anchor="middle">1</text>
<text transform="translate(807.3 1584.8) scale(0.97 1)" font-size="85" text-anchor="middle">2</text>
<text transform="translate(1149.6 1584.8) scale(0.97 1)" font-size="85" text-anchor="middle">3</text>
<text transform="translate(1491.9 1584.8) scale(0.97 1)" font-size="85" text-anchor="middle">4</text>
<text transform="translate(1834.2 1584.8) scale(0.97 1)" font-size="85" text-anchor="middle">5</text>
</g>
<text class="b" transform="translate(1150 1682.8) scale(0.981 1)" font-size="96.8" text-anchor="middle">Number of cycles</text>
<text class="b" transform="translate(106.8 763.5) rotate(-90) scale(0.992 1)" font-size="96.8" text-anchor="middle">Adsorption capacity (mg/g)</text>
<g id="legend">
<rect x="1526.00" y="75.00" width="164.00" height="82.00" fill="url(#pd)" shape-rendering="crispEdges"/><rect x="1526.00" y="75.00" width="164.00" height="82.00" fill="none" stroke="#000" stroke-width="4.00" shape-rendering="crispEdges"/>
<text transform="translate(1710.0 140.7) scale(0.962 1)" font-size="77.8">Cu-ZZ50</text>
<rect x="1526.00" y="167.00" width="164.00" height="83.00" fill="url(#ps)" shape-rendering="crispEdges"/><rect x="1526.00" y="167.00" width="164.00" height="83.00" fill="none" stroke="#000" stroke-width="4.00" shape-rendering="crispEdges"/>
<text transform="translate(1707.3 233.5) scale(0.971 1)" font-size="77.8">Ni-ZZ50</text>
<rect x="1526.00" y="260.00" width="164.00" height="82.50" fill="#C4B3D9"/><clipPath id="c11"><rect x="1526.00" y="260.00" width="164.00" height="82.50"/></clipPath><g clip-path="url(#c11)" stroke="#000" stroke-width="2.40" fill="none"><path d="M1523.00 263.80L1693.00 93.80M1523.00 290.93L1693.00 120.93M1523.00 318.07L1693.00 148.07M1523.00 345.20L1693.00 175.20M1523.00 372.34L1693.00 202.34M1523.00 399.47L1693.00 229.47M1523.00 426.61L1693.00 256.61M1523.00 453.74L1693.00 283.74M1523.00 480.88L1693.00 310.88M1523.00 508.01L1693.00 338.01"/></g><rect x="1526.00" y="260.00" width="164.00" height="82.50" fill="none" stroke="#000" stroke-width="4.00" shape-rendering="crispEdges"/>
<text transform="translate(1710.0 326.5) scale(0.967 1)" font-size="77.8">Cu-AAFZ</text>
<rect x="1526.00" y="353.00" width="164.00" height="82.50" fill="#00FFFF"/><clipPath id="c12"><rect x="1526.00" y="353.00" width="164.00" height="82.50"/></clipPath><g clip-path="url(#c12)" stroke="#000" stroke-width="2.40" fill="none"><path d="M1523.00 179.90L1693.00 349.90M1523.00 198.80L1693.00 368.80M1523.00 217.70L1693.00 387.70M1523.00 236.60L1693.00 406.60M1523.00 255.50L1693.00 425.50M1523.00 274.40L1693.00 444.40M1523.00 293.30L1693.00 463.30M1523.00 312.20L1693.00 482.20M1523.00 331.10L1693.00 501.10M1523.00 350.00L1693.00 520.00M1523.00 368.90L1693.00 538.90M1523.00 387.80L1693.00 557.80M1523.00 406.70L1693.00 576.70M1523.00 425.60L1693.00 595.60"/></g><rect x="1526.00" y="353.00" width="164.00" height="82.50" fill="none" stroke="#000" stroke-width="4.00" shape-rendering="crispEdges"/>
<text transform="translate(1707.6 419.5) scale(0.979 1)" font-size="77.8">Ni-AAFZ</text>
</g>
</svg></body></html>
